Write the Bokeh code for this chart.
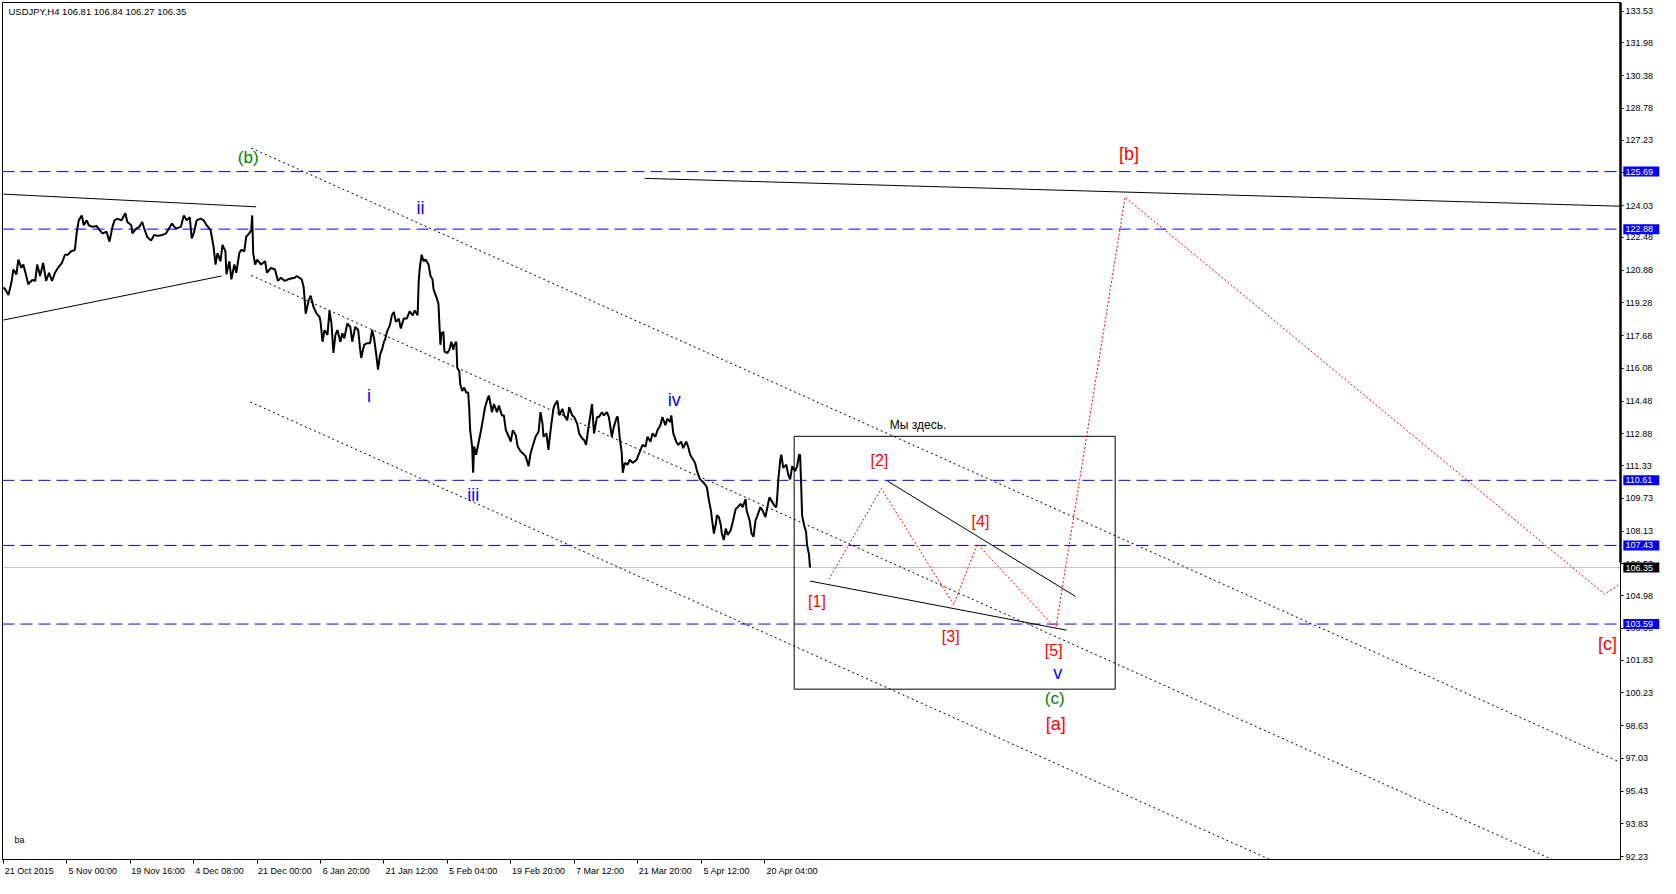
from bokeh.plotting import figure
from bokeh.models import FixedTicker, Range1d, PrintfTickFormatter
from bokeh.core.properties import value
from bokeh.embed import file_html
from bokeh.resources import INLINE

FONT = "Liberation Sans"

# ---------------- data ----------------
bar_index = [0, 2, 5, 8, 10, 13, 15, 18, 20, 23, 25, 29, 32, 34, 37, 40, 43, 46, 49, 52,
             55, 59, 62, 65, 68, 72, 74, 76, 79, 81, 84, 86, 90, 94, 97, 100, 104, 107, 110, 112,
             115, 119, 123, 125, 129, 130, 134, 137, 140, 142, 145, 149, 152, 156, 160, 164, 167, 170, 174, 179,
             182, 185, 188, 190, 192, 195, 199, 202, 205, 209, 212, 214, 216, 219, 221, 224, 225, 228, 230, 233,
             235, 238, 240, 243, 245, 248, 250, 251, 252, 254, 256, 260, 264, 266, 270, 274, 277, 280, 284, 289,
             294, 296, 301, 303, 304, 305, 308, 310, 313, 316, 319, 320, 322, 324, 327, 329, 331, 333, 335, 337,
             340, 342, 344, 347, 350, 352, 355, 358, 360, 361, 364, 367, 370, 372, 374, 376, 378, 380, 382, 384,
             385, 387, 390, 392, 394, 396, 399, 401, 404, 407, 410, 413, 415, 418, 419, 420, 422, 424, 426, 429,
             431, 433, 434, 437, 439, 440, 441, 442, 444, 445, 448, 450, 452, 454, 455, 457, 458, 460, 461, 463,
             465, 467, 469, 470, 471, 473, 474, 475, 477, 480, 482, 484, 486, 489, 490, 493, 495, 498, 500, 503,
             505, 507, 510, 512, 514, 517, 519, 522, 524, 527, 530, 532, 534, 537, 540, 542, 544, 545, 548, 550,
             551, 553, 555, 556, 559, 561, 564, 566, 569, 571, 574, 576, 579, 581, 584, 586, 588, 590, 592, 594,
             596, 599, 601, 604, 606, 609, 611, 614, 616, 619, 620, 622, 624, 625, 627, 630, 632, 635, 639, 641,
             643, 645, 648, 650, 653, 655, 658, 660, 663, 665, 668, 670, 673, 674, 676, 679, 681, 684, 686, 689,
             691, 693, 695, 698, 700, 703, 705, 708, 710, 712, 714, 715, 717, 719, 720, 722, 724, 725, 727, 729,
             731, 734, 736, 739, 741, 744, 746, 749, 750, 753, 755, 757, 759, 761, 764, 766, 769, 771, 773, 775,
             778, 780, 781, 782, 784, 785, 787, 790, 792, 794, 796, 799, 801, 803, 804, 805, 806, 808, 810, 811,
             813, 814]
price = [120.03, 119.92, 119.66, 120.27, 120.91, 120.67, 121.39, 120.99, 121.15, 120.59, 120.19, 120.40, 120.35, 121.15, 120.59, 121.23, 120.35, 120.75, 120.35, 120.75,
         120.99, 121.23, 121.63, 121.63, 121.79, 121.87, 122.75, 123.31, 123.55, 123.07, 123.31, 123.07, 122.99, 123.03, 122.83, 122.67, 122.75, 122.27, 122.99, 123.31,
         123.39, 123.31, 123.66, 123.23, 123.07, 122.67, 122.91, 122.99, 123.23, 122.91, 122.51, 122.32, 122.59, 122.55, 122.59, 122.67, 122.91, 123.15, 122.91, 122.99,
         123.55, 123.31, 123.47, 122.43, 122.67, 123.31, 123.39, 123.31, 123.07, 122.83, 122.03, 121.15, 121.71, 121.31, 122.11, 121.79, 120.67, 121.31, 120.43, 121.15,
         120.75, 121.71, 121.87, 121.79, 122.51, 122.67, 122.83, 123.55, 121.71, 121.15, 121.39, 121.15, 121.31, 120.75, 120.99, 120.91, 120.35, 120.51, 120.35, 120.46,
         120.51, 120.59, 120.43, 120.03, 119.39, 118.75, 119.39, 119.63, 119.07, 118.75, 118.59, 118.35, 117.38, 117.95, 117.71, 118.91, 118.27, 116.83, 117.71, 117.95,
         117.38, 117.79, 117.55, 118.27, 118.10, 117.38, 118.10, 117.95, 116.99, 116.59, 117.23, 117.31, 117.31, 117.95, 117.55, 116.83, 116.02, 116.74, 116.99, 117.38,
         117.47, 117.86, 118.19, 118.67, 118.83, 118.35, 118.51, 118.03, 118.51, 118.51, 118.86, 118.67, 118.91, 118.67, 120.27, 120.91, 121.63, 121.31, 121.39, 121.15,
         120.59, 120.43, 119.95, 119.55, 119.23, 118.19, 117.23, 117.79, 117.86, 116.90, 116.83, 116.99, 117.38, 116.99, 117.23, 117.38, 116.11, 115.94, 115.30, 114.98,
         115.14, 114.90, 114.90, 114.18, 113.06, 112.26, 110.98, 112.26, 111.86, 112.58, 113.06, 113.62, 114.18, 114.66, 114.74, 113.94, 114.34, 113.94, 114.26, 113.78,
         113.78, 113.06, 112.74, 112.50, 113.06, 112.82, 112.26, 112.02, 111.94, 111.78, 111.30, 111.94, 112.26, 112.74, 112.98, 113.94, 113.38, 112.74, 112.90, 112.10,
         112.58, 113.38, 114.10, 114.26, 114.50, 113.78, 114.10, 113.78, 113.54, 114.18, 113.78, 113.70, 113.38, 112.90, 112.66, 112.58, 112.34, 113.06, 113.70, 114.34,
         112.90, 113.70, 113.70, 113.94, 113.78, 113.94, 113.70, 112.74, 113.22, 113.70, 113.70, 112.66, 111.94, 110.98, 111.46, 111.38, 111.62, 111.46, 111.62, 111.86,
         112.10, 112.34, 112.26, 112.74, 112.50, 112.90, 112.74, 113.06, 113.30, 113.70, 113.30, 113.62, 113.46, 113.78, 112.90, 112.50, 112.34, 112.50, 112.18, 112.50,
         112.26, 111.86, 111.70, 111.46, 111.06, 110.66, 110.58, 110.42, 110.26, 109.62, 109.14, 108.73, 108.01, 108.49, 108.90, 108.82, 108.42, 108.01, 107.70, 108.25,
         107.94, 108.18, 108.58, 109.21, 109.30, 109.46, 109.30, 109.69, 109.14, 108.66, 108.01, 107.86, 108.66, 108.90, 109.30, 109.14, 108.82, 109.30, 109.78, 109.62,
         109.38, 109.30, 109.86, 110.66, 111.62, 111.86, 111.22, 111.38, 110.90, 110.66, 111.30, 111.06, 111.30, 111.86, 111.86, 110.50, 108.90, 108.42, 108.10, 107.46,
         106.98, 106.35]

time_tick_bars = [0, 64, 128, 192, 256, 320, 384, 448, 512, 576, 640, 704, 768]
time_tick_labels = ["21 Oct 2015", "5 Nov 00:00", "19 Nov 16:00", "4 Dec 08:00", "21 Dec 00:00",
                    "6 Jan 20:00", "21 Jan 12:00", "5 Feb 04:00", "19 Feb 20:00", "7 Mar 12:00",
                    "21 Mar 20:00", "5 Apr 12:00", "20 Apr 04:00"]

price_ticks = [133.53, 131.98, 130.38, 128.78, 127.23, 125.63, 124.03, 122.48, 120.88, 119.28,
               117.68, 116.08, 114.48, 112.88, 111.33, 109.73, 108.13, 106.53, 104.98, 103.38,
               101.83, 100.23, 98.63, 97.03, 95.43, 93.83, 92.23]

blue_levels = [125.69, 122.88, 110.61, 107.43, 103.59]
last_price = 106.35

trend_bar0 = [0, 0, 647, 814, 892]
trend_price0 = [124.59, 118.44, 125.36, 105.69, 110.58]
trend_bar1 = [255, 220, 1632, 1073, 1082]
trend_price1 = [123.97, 120.59, 124.00, 103.29, 104.94]

chan_bar0 = [250, 250, 249]
chan_price0 = [126.84, 120.62, 114.44]
chan_bar1 = [1632, 1632, 1632]
chan_price1 = [96.83, 90.59, 84.40]

proj_bars = [833, 886, 959, 983, 1062, 1132, 1616, 1632]
proj_prices = [105.77, 110.21, 104.54, 107.50, 103.37, 124.44, 105.05, 105.56]

box_bars = [798, 1122]
box_prices = [100.41, 112.76]

blue_text = ["i", "ii", "iii", "iv", "v"]
blue_bars = [369, 421, 474, 677, 1064]
blue_prices = [114.74, 123.90, 109.87, 114.53, 101.18]

green_text = ["(b)", "(c)"]
green_bars = [247, 1061]
green_prices = [126.36, 99.93]

red_big_text = ["[b]", "[a]", "[c]"]
red_big_bars = [1136, 1062, 1619]
red_big_prices = [126.55, 98.70, 102.64]

red_small_text = ["[1]", "[2]", "[3]", "[4]", "[5]"]
red_small_bars = [821, 884, 956, 986, 1060]
red_small_prices = [104.71, 111.60, 103.00, 108.58, 102.30]

note_text = "Мы здесь."
note_bar = 923
note_price = 113.30

header_text = "USDJPY,H4  106.81 106.84 106.27 106.35"
footer_text = "ba"

X0, X1 = -1, 1632
Y0, Y1 = 92.09, 133.95

# ---------------- figure ----------------
p = figure(width=1660, height=878, output_backend="svg", toolbar_location=None,
           x_range=Range1d(X0, X1), y_range=Range1d(Y0, Y1),
           y_axis_location="right", min_border=0, min_border_left=2, min_border_top=2,
           min_border_right=40)
p.background_fill_color = "white"
p.border_fill_color = "white"
p.outline_line_color = "black"
p.outline_line_width = 1
p.xgrid.visible = False
p.ygrid.visible = False

centers = [int(round(b + 1 + 2.25 * len(t))) for b, t in zip(time_tick_bars, time_tick_labels)]
p.xaxis.ticker = FixedTicker(ticks=centers, minor_ticks=time_tick_bars)
p.xaxis.major_label_overrides = {c: t for c, t in zip(centers, time_tick_labels)}
p.xaxis.major_tick_line_color = None
p.xaxis.major_tick_out = 3
p.xaxis.major_tick_in = 0
p.xaxis.minor_tick_line_color = "black"
p.xaxis.minor_tick_out = 4
p.xaxis.minor_tick_in = 0
p.xaxis.major_label_standoff = 2

p.yaxis.ticker = FixedTicker(ticks=price_ticks)
p.yaxis.formatter = PrintfTickFormatter(format="%.2f")
p.yaxis.major_tick_out = 3
p.yaxis.major_tick_in = 0
p.yaxis.minor_tick_line_color = None
p.yaxis.major_label_standoff = 2

for ax in (p.xaxis, p.yaxis):
    ax.axis_line_color = "black"
    ax.axis_line_width = 1
    ax.major_label_text_font = FONT
    ax.major_label_text_font_size = "9px"
    ax.major_label_text_color = "black"

p.segment(x0=[X0] * len(blue_levels), y0=blue_levels, x1=[X1] * len(blue_levels), y1=blue_levels,
          line_color="#0000FF", line_width=1, line_dash="12 6")
p.segment(x0=[X0], y0=[last_price], x1=[X1], y1=[last_price], line_color="#C0C0C8", line_width=1)

p.segment(x0=chan_bar0, y0=chan_price0, x1=chan_bar1, y1=chan_price1,
          line_color="black", line_width=1, line_dash="2 3")

p.segment(x0=trend_bar0, y0=trend_price0, x1=trend_bar1, y1=trend_price1,
          line_color="black", line_width=1)

p.quad(left=[box_bars[0]], right=[box_bars[1]], bottom=[box_prices[0]], top=[box_prices[1]],
       fill_color=None, line_color="black", line_width=1)

p.line(bar_index, price, line_color="black", line_width=2)

p.line(proj_bars, proj_prices, line_color="#FF0000", line_width=1, line_dash="2 2")

def texts(xs, ys, ts, color, size, align="center", level="glyph"):
    p.text(x=xs, y=ys, text=ts, text_color=color, text_font=value(FONT),
           text_font_size=size, text_align=align, text_baseline="middle", level=level)

texts(blue_bars, blue_prices, blue_text, "#0000FF", "18px")
texts(green_bars, green_prices, green_text, "#008000", "17px")
texts(red_big_bars, red_big_prices, red_big_text, "#FF0000", "18px")
texts(red_small_bars, red_small_prices, red_small_text, "#FF0000", "16px")
texts([note_bar], [note_price], [note_text], "black", "12px")
texts([5], [133.52], [header_text], "black", "9.5px", align="left")
texts([11], [93.05], [footer_text], "black", "9px", align="left")

# thick upper part of the price-scale edge (above the current price)
p.segment(x0=[X1], y0=[Y1], x1=[X1], y1=[106.6], line_color="black", line_width=2.5, level="overlay")

# highlighted price labels on the price scale, drawn above the axis
lab_levels = blue_levels + [last_price]
lab_colors = ["#0000FF"] * len(blue_levels) + ["black"]
lab_text = [f"{v:.2f}" for v in lab_levels]
p.rect(x=[X1 + 21] * len(lab_levels), y=lab_levels, width=36, height=10,
       width_units="screen", height_units="screen", fill_color=lab_colors,
       line_color=None, level="overlay")
texts([X1 + 5] * len(lab_levels), lab_levels, lab_text, "white", "9px", align="left", level="overlay")

open("out.html", "w").write(file_html(p, INLINE))
